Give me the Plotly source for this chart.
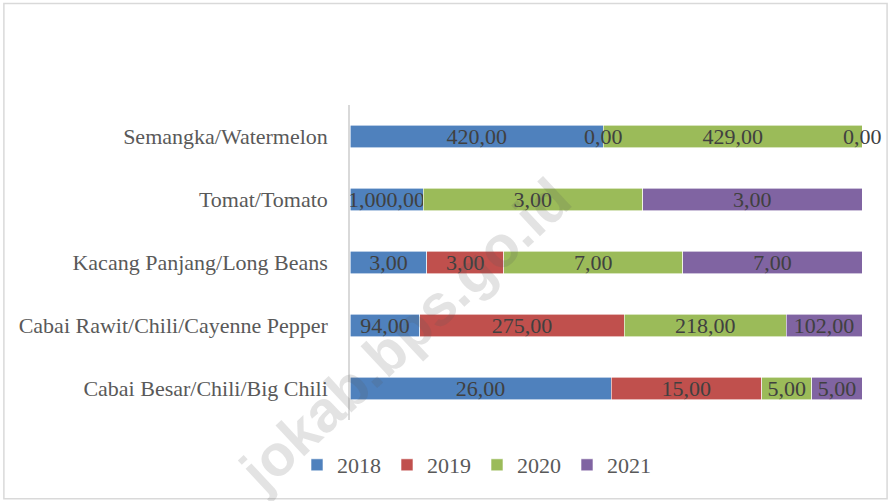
import plotly.graph_objects as go

categories = [
    "Semangka/Watermelon",
    "Tomat/Tomato",
    "Kacang Panjang/Long Beans",
    "Cabai Rawit/Chili/Cayenne Pepper",
    "Cabai Besar/Chili/Big Chili",
]
years = ["2018", "2019", "2020", "2021"]

values_2018 = [420, 1, 3, 94, 26]
values_2019 = [0, 0, 3, 275, 15]
values_2020 = [429, 3, 7, 218, 5]
values_2021 = [0, 3, 7, 102, 5]

labels_2018 = ["420,00", "1,000,00", "3,00", "94,00", "26,00"]
labels_2019 = ["0,00", "", "3,00", "275,00", "15,00"]
labels_2020 = ["429,00", "3,00", "7,00", "218,00", "5,00"]
labels_2021 = ["0,00", "3,00", "7,00", "102,00", "5,00"]

colors = ["#4F81BD", "#C0504D", "#9BBB59", "#8064A2"]

series_values = [values_2018, values_2019, values_2020, values_2021]
series_labels = [labels_2018, labels_2019, labels_2020, labels_2021]

FONT = "Liberation Serif, Times New Roman, serif"

fig = go.Figure()
for yr, vals, labs, col in zip(years, series_values, series_labels, colors):
    fig.add_trace(go.Bar(
        name=yr, y=categories, x=vals, orientation="h",
        marker=dict(color=col, line=dict(color="white", width=0.6)),
        text=labs, textposition="inside", insidetextanchor="middle",
        textfont=dict(family=FONT, size=22, color="#404040"),
        constraintext="none", cliponaxis=False,
    ))

# labels for zero-width segments (not drawn inside blank bars)
annotations = []
for ci, cat in enumerate(categories):
    total = sum(v[ci] for v in series_values)
    cum = 0
    for si in range(len(years)):
        v = series_values[si][ci]
        lab = series_labels[si][ci]
        cum_prev = cum
        cum += v
        if v == 0 and lab:
            annotations.append(dict(
                x=cum_prev / total * 100, y=cat, xref="x", yref="y",
                text=lab, showarrow=False, xanchor="center",
                font=dict(family=FONT, size=22, color="#404040"),
            ))

# watermark
annotations.append(dict(
    x=0.107, y=0.27, xref="paper", yref="paper",
    xanchor="center", yanchor="middle",
    text="<b>jokab.bps.go.id</b>", showarrow=False, textangle=-43,
    font=dict(family="Liberation Sans, Arial, sans-serif", size=58,
              color="rgba(90,90,90,0.17)"),
))

fig.update_layout(
    barmode="stack", barnorm="percent", bargap=0.65,
    width=890, height=501,
    margin=dict(l=350, r=28, t=105, b=81),
    paper_bgcolor="white", plot_bgcolor="white",
    showlegend=True,
    legend=dict(orientation="h", xref="container", yref="container",
                x=297 / 890, xanchor="left", y=1 - 465 / 501,
                yanchor="middle", traceorder="normal",
                font=dict(family=FONT, size=22, color="#595959"),
                entrywidth=45, itemwidth=30),
    xaxis=dict(range=[0, 100], showticklabels=False, showgrid=False,
               zeroline=False, showline=False, fixedrange=True),
    yaxis=dict(autorange="reversed", showline=True, linecolor="#d9d9d9",
               linewidth=1.5, ticks="", ticklabelstandoff=16,
               tickfont=dict(family=FONT, size=22, color="#595959"),
               showgrid=False),
    annotations=annotations,
    shapes=[dict(type="rect", xref="paper", yref="paper",
                 x0=-0.676, x1=1.049, y0=-0.25, y1=1.322,
                 line=dict(color="#d9d9d9", width=1.5), layer="below")],
)

fig.write_html("out.html", config={"displayModeBar": False},
               post_script="document.body.style.margin='0';")
